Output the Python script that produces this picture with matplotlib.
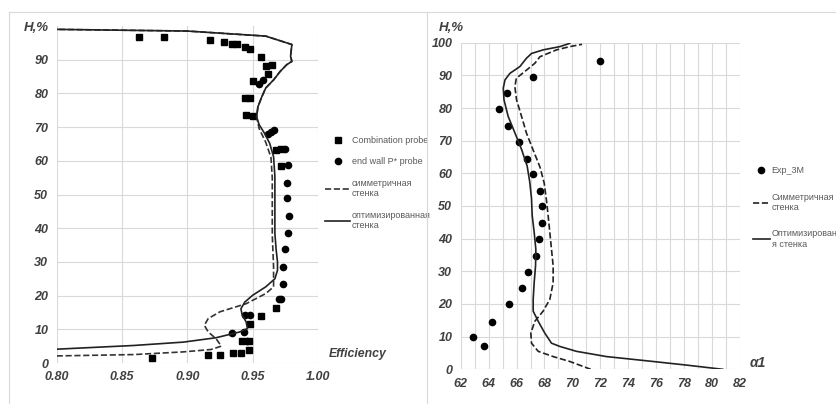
import matplotlib
matplotlib.use("Agg")
import matplotlib.pyplot as plt
from matplotlib.lines import Line2D

plt.rcParams['font.family'] = ['Liberation Sans', 'DejaVu Sans']

# ---- left chart: efficiency ----
comb_eff = [0.863, 0.882, 0.917, 0.928, 0.934, 0.938, 0.944, 0.948, 0.956, 0.960, 0.965,
            0.962, 0.950, 0.944, 0.948, 0.945, 0.950, 0.968, 0.972, 0.972,
            0.968, 0.956, 0.948, 0.942, 0.947, 0.935, 0.941, 0.947, 0.916, 0.925, 0.873]
comb_h = [96.8, 96.6, 95.9, 95.3, 94.6, 94.6, 93.8, 93.3, 90.9, 88.1, 88.5,
          85.8, 83.6, 78.5, 78.5, 73.7, 73.4, 63.3, 63.6, 58.5,
          16.3, 13.8, 11.5, 6.5, 6.5, 3.1, 3.1, 4.0, 2.3, 2.3, 1.6]

wall_eff = [0.955, 0.958, 0.962, 0.964, 0.966, 0.975, 0.977, 0.976, 0.976, 0.978, 0.977,
            0.975, 0.973, 0.973, 0.970, 0.972, 0.944, 0.948, 0.934, 0.943, 0.946]
wall_h = [82.8, 84.0, 68.0, 68.5, 69.0, 63.6, 58.8, 53.4, 48.9, 43.7, 38.5,
          33.9, 28.4, 23.5, 19.0, 19.0, 14.1, 14.1, 9.0, 9.3, 6.4]

sym_eff = [0.80, 0.859, 0.897, 0.918, 0.926, 0.922, 0.916, 0.913, 0.916, 0.925, 0.945,
           0.960, 0.966, 0.966, 0.965, 0.965, 0.965, 0.964, 0.960, 0.955, 0.953, 0.954,
           0.957, 0.960, 0.966, 0.971, 0.976, 0.980, 0.979, 0.980, 0.960, 0.90, 0.80]
sym_h = [2.1, 2.5, 3.3, 4.0, 5.0, 7.2, 9.2, 11.2, 13.2, 15.2, 17.6,
         20.6, 22.6, 28.5, 38.0, 48.0, 55.0, 61.0, 65.5, 69.5, 73.0, 76.0,
         79.0, 81.6, 84.0, 86.5, 88.5, 89.5, 91.0, 94.5, 97.0, 98.5, 99.0]

opt_eff = [0.80, 0.859, 0.897, 0.922, 0.940, 0.946, 0.945, 0.942, 0.941, 0.944, 0.950,
           0.960, 0.967, 0.969, 0.969, 0.968, 0.967, 0.967, 0.967, 0.966, 0.963, 0.959,
           0.955, 0.953, 0.954, 0.957, 0.960, 0.966, 0.971, 0.976, 0.980, 0.979, 0.980,
           0.960, 0.90, 0.80]
opt_h = [4.1, 5.2, 6.2, 7.5, 9.2, 10.2, 12.2, 14.2, 16.1, 18.1, 20.1,
         22.6, 25.0, 27.5, 30.0, 33.5, 38.4, 48.5, 55.4, 61.2, 65.2, 68.2,
         70.7, 73.0, 76.0, 79.0, 81.6, 84.0, 86.5, 88.5, 89.5, 91.0, 94.5,
         97.0, 98.5, 99.0]

# ---- right chart: alpha1 ----
exp_a = [71.98, 67.17, 65.33, 64.76, 65.40, 66.17, 66.76, 67.19, 67.71,
         67.83, 67.83, 67.64, 67.38, 66.83, 66.38, 65.48, 64.21, 62.90, 63.67]
exp_h = [94.3, 89.6, 84.5, 79.8, 74.4, 69.7, 64.4, 59.7, 54.7,
         50.0, 44.9, 39.9, 34.8, 29.8, 25.0, 20.0, 14.6, 10.0, 7.2]

sym_a = [71.31, 69.81, 68.62, 67.55, 67.07, 67.02, 67.31, 67.90, 68.38, 68.62, 68.62,
         68.50, 68.38, 68.26, 68.14, 67.98, 67.67, 67.19, 66.71, 66.36, 66.00, 65.88,
         65.98, 66.71, 67.31, 67.67, 68.86, 69.81, 70.69]
sym_ha = [0.0, 2.4, 3.9, 5.5, 8.0, 11.1, 14.7, 17.8, 21.4, 26.5, 31.7,
          36.8, 42.0, 47.1, 51.8, 57.0, 62.0, 67.1, 72.3, 77.4, 82.5, 86.5,
          89.1, 91.6, 93.7, 95.7, 97.8, 98.8, 99.5]

opt_a = [80.76, 78.14, 75.76, 72.43, 70.29, 69.10, 68.50, 68.02, 67.55, 67.19, 67.19,
         67.26, 67.36, 67.38, 67.26, 67.12, 67.07, 66.95, 66.76, 66.36, 65.88, 65.40,
         65.10, 65.05, 65.17, 65.52, 66.24, 66.70, 67.07, 67.90, 69.10, 69.81]
opt_ha = [0.0, 1.3, 2.4, 3.9, 5.5, 7.0, 8.0, 11.1, 14.7, 17.8, 21.4,
          26.5, 31.7, 36.8, 42.0, 47.1, 52.3, 57.2, 62.2, 67.3, 72.4, 77.4,
          82.5, 86.1, 88.6, 90.6, 92.7, 95.2, 96.7, 97.8, 98.8, 99.8]

grid_c = '#d9d9d9'
tick_c = '#404040'
leg_c = '#595959'

fig = plt.figure(figsize=(8.36, 4.04), dpi=100)

# panel borders
fig.add_artist(Line2D([9 / 836, 1], [1 - 12 / 404] * 2, color=grid_c, lw=0.8))
fig.add_artist(Line2D([9 / 836] * 2, [0, 1 - 12 / 404], color=grid_c, lw=0.8))
fig.add_artist(Line2D([427 / 836] * 2, [0, 1 - 12 / 404], color=grid_c, lw=0.8))

ax1 = fig.add_axes([56.7 / 836, 1 - 363 / 404, (318 - 56.7) / 836, (363 - 26) / 404])
ax2 = fig.add_axes([460.7 / 836, 1 - 369.3 / 404, (740 - 460.7) / 836, (369.3 - 42.7) / 404])

ax1.plot(comb_eff, comb_h, 's', color='black', ms=4.2, label='Combination probe')
ax1.plot(wall_eff, wall_h, 'o', color='black', ms=4.5, label='end wall P* probe')
ax1.plot(sym_eff, sym_h, '--', color='#333333', lw=1.2, label='симметричная\nстенка')
ax1.plot(opt_eff, opt_h, '-', color='#222222', lw=1.2, label='оптимизированная\nстенка')
ax1.set_xlim(0.80, 1.00)
ax1.set_ylim(0, 100)
ax1.set_xticks([0.80, 0.85, 0.90, 0.95, 1.00])
ax1.set_xticklabels(['0.80', '0.85', '0.90', '0.95', '1.00'])
ax1.set_yticks(range(0, 100, 10))
ax1.text(-0.03, 0.994, 'H,%', transform=ax1.transAxes, ha='right', va='center',
         fontsize=9.5, fontweight='bold', style='italic', color=tick_c)
ax1.text(1.04, 0.027, 'Efficiency', transform=ax1.transAxes, ha='left', va='center',
         fontsize=8.8, fontweight='bold', style='italic', color=tick_c)
ax1.legend(loc='upper left', bbox_to_anchor=(1.013, 0.685), frameon=False, fontsize=6.5,
           labelcolor=leg_c, handlelength=2.8, labelspacing=1.4, handletextpad=0.2,
           borderaxespad=0)

ax2.plot(exp_a, exp_h, 'o', color='black', ms=4.5, label='Exp_3M')
ax2.plot(sym_a, sym_ha, '--', color='#222222', lw=1.2, label='Симметричная\nстенка')
ax2.plot(opt_a, opt_ha, '-', color='#222222', lw=1.2, label='Оптимизирован\nя стенка')
ax2.set_xlim(62, 82)
ax2.set_ylim(0, 100)
ax2.set_xticks(range(62, 83, 2))
ax2.set_xticks(range(62, 83, 1), minor=True)
ax2.set_yticks(range(0, 101, 10))
ax2.text(-0.078, 1.045, 'H,%', transform=ax2.transAxes, ha='left', va='center',
         fontsize=9.5, fontweight='bold', style='italic', color=tick_c)
ax2.text(1.035, 0.02, 'α1', transform=ax2.transAxes, ha='left', va='center',
         fontsize=10, fontweight='bold', style='italic', color=tick_c)
ax2.legend(loc='upper left', bbox_to_anchor=(1.032, 0.632), frameon=False, fontsize=6.5,
           labelcolor=leg_c, handlelength=1.9, labelspacing=1.9, handletextpad=0.2,
           borderaxespad=0)

for ax in (ax1, ax2):
    for s in ax.spines.values():
        s.set_visible(False)
    ax.grid(True, which='both', color=grid_c, lw=0.8)
    ax.set_axisbelow(True)
    ax.tick_params(which='both', length=0, labelsize=9, colors=tick_c, pad=6)
    for lab in ax.get_xticklabels() + ax.get_yticklabels():
        lab.set_fontweight('bold')
        lab.set_fontstyle('italic')

fig.savefig('out.png', dpi=100)
